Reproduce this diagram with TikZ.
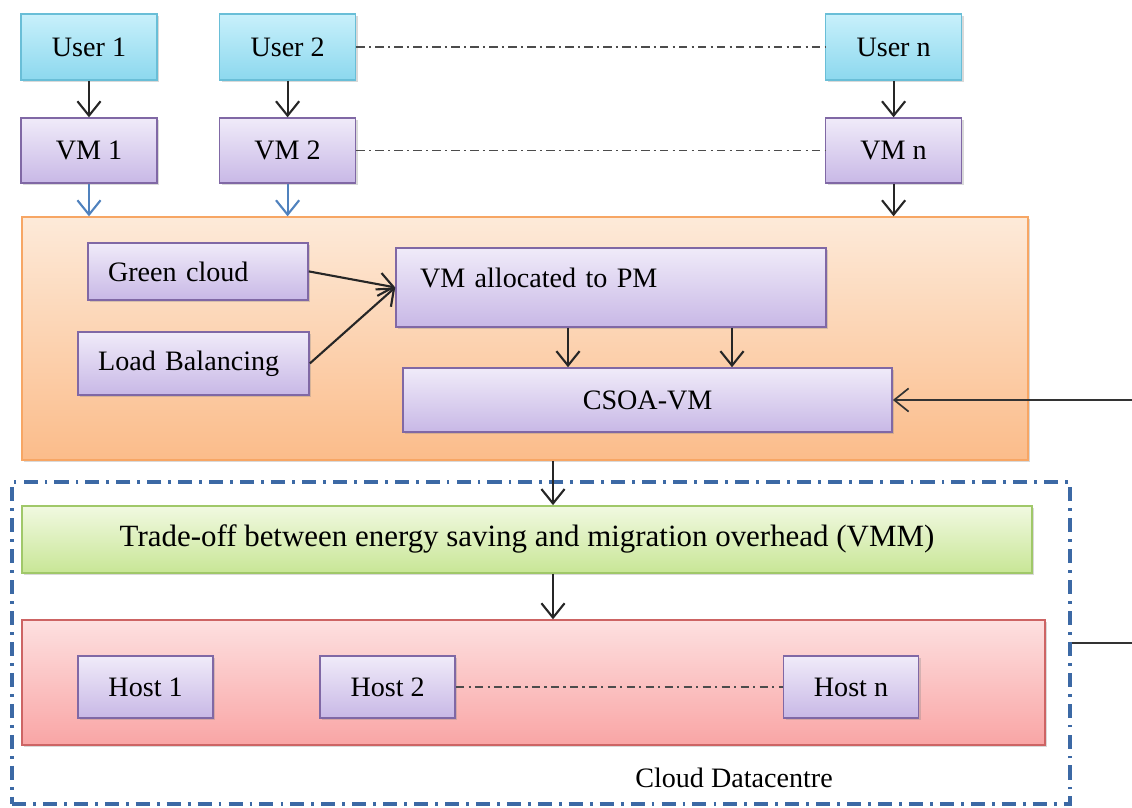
\documentclass[tikz,border=0pt]{standalone}
\usepackage{fontspec}
\setmainfont{Liberation Serif}
\newfontfamily\boxfont{Liberation Serif}
\usetikzlibrary{arrows.meta,shadows}

\definecolor{usertop}{RGB}{200,240,251}
\definecolor{userbot}{RGB}{140,216,238}
\definecolor{userline}{RGB}{105,190,215}
\definecolor{vmtop}{RGB}{240,235,249}
\definecolor{vmbot}{RGB}{200,184,230}
\definecolor{vmline}{RGB}{128,104,165}
\definecolor{orangetop}{RGB}{253,234,217}
\definecolor{orangebot}{RGB}{251,188,138}
\definecolor{orangeline}{RGB}{247,166,100}
\definecolor{greentop}{RGB}{241,249,225}
\definecolor{greenbot}{RGB}{200,230,150}
\definecolor{greenline}{RGB}{160,200,105}
\definecolor{redtop}{RGB}{253,224,224}
\definecolor{redbot}{RGB}{249,165,165}
\definecolor{redline}{RGB}{205,100,100}
\definecolor{dcblue}{RGB}{60,105,165}
\definecolor{vmarrow}{RGB}{80,130,190}

\begin{document}
\begin{tikzpicture}[
  font=\boxfont\fontsize{20}{24}\selectfont,
  every node/.style={inner sep=0pt},
  box/.style={draw, line width=1.1pt,
    drop shadow={opacity=0.3, shadow xshift=1.5pt, shadow yshift=-1.5pt}},
  userbox/.style={box, draw=userline, top color=usertop, bottom color=userbot,
    minimum width=3.4cm, minimum height=1.65cm},
  vmbox/.style={box, draw=vmline, top color=vmtop, bottom color=vmbot,
    minimum width=3.4cm, minimum height=1.625cm},
  hostbox/.style={vmbox, minimum width=3.375cm, minimum height=1.55cm},
  link/.style={-{Straight Barb[length=0.36cm,width=0.58cm]}, line width=1.5pt, black!85},
  dotdash/.style={line width=0.8pt, black!70, dash pattern=on 6pt off 3pt on 1.5pt off 3pt},
]
  \useasboundingbox (0,0) rectangle (28.3,20.175);
  \clip (0,0) rectangle (28.3,20.175);

  % users and their VMs
  \node[userbox] (user1) at (2.225,19.0) {User 1};
  \node[userbox] (user2) at (7.19,19.0) {User 2};
  \node[userbox] (usern) at (22.34,19.0) {User n};
  \node[vmbox] (vm1) at (2.225,16.41) {VM 1};
  \node[vmbox] (vm2) at (7.19,16.41) {VM 2};
  \node[vmbox] (vmn) at (22.34,16.41) {VM n};

  % scheduling layer
  \node[box, draw=orangeline, top color=orangetop, bottom color=orangebot,
    minimum width=25.15cm, minimum height=6.075cm] (sched) at (13.125,11.71) {};
  \node[vmbox, align=left, text width=4.5cm, inner xsep=0.5cm,
    minimum height=1.425cm] (green) at (4.95,13.39) {Green cloud};
  \node[vmbox, align=left, text width=4.775cm, inner xsep=0.5cm,
    minimum height=1.575cm] (load) at (4.84,11.09) {Load Balancing};
  \node[vmbox, align=left, text width=9.55cm, inner xsep=0.6cm,
    text height=0.5cm, text depth=0.5cm,
    minimum height=1.975cm] (alloc) at (15.275,12.99) {VM allocated to PM};
  \node[vmbox, minimum width=12.225cm, minimum height=1.6cm] (csoa) at (16.19,10.175) {CSOA-VM};

  % datacentre
  \node[draw=dcblue, line width=2.2pt, dash pattern=on 10pt off 5pt on 2pt off 5pt,
    minimum width=26.45cm, minimum height=8.05cm] (dc) at (13.525,4.1) {};
  \node[box, draw=greenline, top color=greentop, bottom color=greenbot,
    minimum width=25.25cm, minimum height=1.675cm, font=\boxfont\fontsize{22}{26}\selectfont]
    (tradeoff) at (13.175,6.69) {Trade-off between energy saving and migration overhead (VMM)};
  \node[box, draw=redline, top color=redtop, bottom color=redbot,
    minimum width=25.575cm, minimum height=3.125cm] (hosts) at (13.34,3.11) {};
  \node[hostbox] (host1) at (3.64,3.0) {Host 1};
  \node[hostbox] (host2) at (9.69,3.0) {Host 2};
  \node[hostbox] (hostn) at (21.275,3.0) {Host n};
  \node (dclabel) at (18.35,0.72) {Cloud Datacentre};

  \draw[dotdash] (user2) -- (usern);
  \draw[dotdash] (vm2) -- (vmn);
  \draw[dotdash] (host2) -- (hostn);

  \draw[link] (user1) -- (vm1);
  \draw[link] (user2) -- (vm2);
  \draw[link] (usern) -- (vmn);
  \draw[link, vmarrow] (vm1) -- (vm1 |- sched.north);
  \draw[link, vmarrow] (vm2) -- (vm2 |- sched.north);
  \draw[link] (vmn) -- (vmn |- sched.north);

  \draw[link] (green.east) -- (alloc.west);
  \draw[link] (load.east) -- (alloc.west);
  \draw[link] ([xshift=-1.075cm]alloc.south) -- ([xshift=-1.075cm]alloc.south |- csoa.north);
  \draw[link] ([xshift=3.025cm]alloc.south) -- ([xshift=3.025cm]alloc.south |- csoa.north);

  \draw[link] ([xshift=0.7cm]sched.south) -- ([xshift=0.7cm]sched.south |- tradeoff.north);
  \draw[link] ([xshift=0.65cm]tradeoff.south) -- ([xshift=0.65cm]tradeoff.south |- hosts.north);

  % feedback from the datacentre
  \coordinate (turn) at (29,4.1);
  \draw[link, black!80, line width=1.2pt] (dc.east) -- (turn) |- (csoa.east);
\end{tikzpicture}
\end{document}
